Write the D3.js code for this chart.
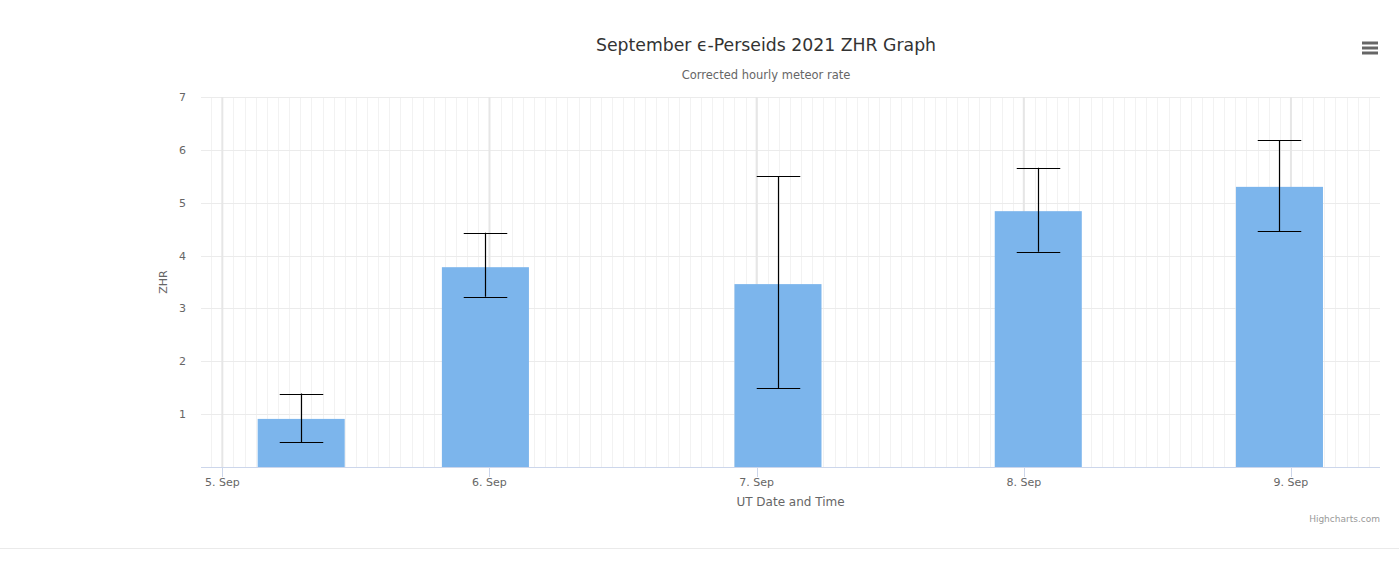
<!DOCTYPE html>
<html>
<head>
<meta charset="utf-8">
<script src="https://cdn.jsdelivr.net/npm/d3@7/dist/d3.min.js"></script>
<style>
  body { margin: 0; background: #fff; }
  svg { display: block; font-family: "DejaVu Sans", Verdana, sans-serif; }
</style>
</head>
<body>
<svg id="chart" width="1399" height="569"></svg>
<script>
// observation times (UT) and corrected ZHR with error range
const times = ["2021-09-05T07:05Z", "2021-09-05T23:38Z", "2021-09-07T01:55Z", "2021-09-08T01:18Z", "2021-09-08T22:58Z"];
const zhr = [0.91, 3.78, 3.46, 4.84, 5.30];
const zhrLow = [0.47, 3.22, 1.49, 4.07, 4.46];
const zhrHigh = [1.39, 4.43, 5.50, 5.66, 6.18];
const yTicks = [1, 2, 3, 4, 5, 6, 7];
const xDomain = ["2021-09-04T22:05Z", "2021-09-09T08:00Z"];

const W = 1399, H = 569;
const margin = { left: 201, right: 19, top: 97, bottom: 102 };
const plotW = W - margin.left - margin.right;
const plotH = H - margin.top - margin.bottom;
const barHours = 7.82;

const svg = d3.select("#chart");

const x = d3.scaleUtc().domain(xDomain.map(d => new Date(d))).range([margin.left, margin.left + plotW]);
const y = d3.scaleLinear().domain([0, 7]).range([margin.top + plotH, margin.top]);

const grid = svg.append("g").attr("class", "grid");

// minor hourly grid lines
const hours = d3.utcHour.every(1).range(x.domain()[0], x.domain()[1]);
grid.selectAll(".minor").data(hours).enter().append("line")
    .attr("x1", d => Math.round(x(d)) + 0.5).attr("x2", d => Math.round(x(d)) + 0.5)
    .attr("y1", margin.top).attr("y2", margin.top + plotH)
    .attr("stroke", "#f2f2f2").attr("stroke-width", 1);

// horizontal grid
grid.selectAll(".hgrid").data(yTicks).enter().append("line")
    .attr("x1", margin.left).attr("x2", margin.left + plotW)
    .attr("y1", d => Math.round(y(d)) + 0.5).attr("y2", d => Math.round(y(d)) + 0.5)
    .attr("stroke", "#ebebeb").attr("stroke-width", 1);

// major day grid lines
const days = d3.utcDay.every(1).range(x.domain()[0], x.domain()[1]);
grid.selectAll(".major").data(days).enter().append("line")
    .attr("x1", d => x(d)).attr("x2", d => x(d))
    .attr("y1", margin.top).attr("y2", margin.top + plotH)
    .attr("stroke", "#e6e6e6").attr("stroke-width", 2);

// columns
const t0 = x.domain()[0];
const barW = x(new Date(t0.getTime() + barHours * 3600e3)) - x(t0);
const pts = times.map((t, i) => ({ t: new Date(t), v: zhr[i], lo: zhrLow[i], hi: zhrHigh[i] }));

svg.append("g").selectAll("rect").data(pts).enter().append("rect")
    .attr("x", d => x(d.t) - barW / 2)
    .attr("y", d => y(d.v))
    .attr("width", barW)
    .attr("height", d => y(0) - y(d.v))
    .attr("fill", "#7cb5ec");

// error bars
const err = svg.append("g").attr("stroke", "#000").attr("stroke-width", 1.2).attr("fill", "none");
pts.forEach(d => {
    const cx = Math.round(x(d.t)) + 0.5;
    const hw = barW / 4;
    err.append("path")
        .attr("d", `M${cx},${y(d.hi)}V${y(d.lo)}M${cx - hw},${Math.round(y(d.hi)) + 0.5}H${cx + hw}M${cx - hw},${Math.round(y(d.lo)) + 0.5}H${cx + hw}`);
});

// x axis
const xAxisG = svg.append("g");
xAxisG.append("line")
    .attr("x1", margin.left).attr("x2", margin.left + plotW)
    .attr("y1", y(0) + 0.5).attr("y2", y(0) + 0.5)
    .attr("stroke", "#ccd6eb");
const dayTick = d3.utcFormat("%-d. %b");
xAxisG.selectAll(".tick").data(days).enter().append("line")
    .attr("x1", d => Math.round(x(d)) + 0.5).attr("x2", d => Math.round(x(d)) + 0.5)
    .attr("y1", y(0)).attr("y2", y(0) + 10)
    .attr("stroke", "#ccd6eb");
xAxisG.selectAll("text").data(days).enter().append("text")
    .attr("x", d => x(d)).attr("y", y(0) + 19)
    .attr("text-anchor", "middle")
    .attr("font-size", 11).attr("fill", "#666")
    .text(dayTick);

svg.append("text")
    .attr("x", margin.left + plotW / 2).attr("y", y(0) + 39)
    .attr("text-anchor", "middle").attr("font-size", 12).attr("fill", "#666")
    .text("UT Date and Time");

// y axis labels
svg.append("g").selectAll("text").data(yTicks).enter().append("text")
    .attr("x", 186).attr("y", d => y(d) + 4)
    .attr("text-anchor", "end").attr("font-size", 11).attr("fill", "#666")
    .text(d => d);

svg.append("text")
    .attr("transform", `translate(167, ${margin.top + plotH / 2}) rotate(-90)`)
    .attr("text-anchor", "middle").attr("font-size", 11).attr("fill", "#666")
    .text("ZHR");

// titles
svg.append("text")
    .attr("x", 766).attr("y", 51)
    .attr("text-anchor", "middle").attr("font-size", 17.3).attr("fill", "#333")
    .text("September ϵ-Perseids 2021 ZHR Graph");
svg.append("text")
    .attr("x", 766).attr("y", 79)
    .attr("text-anchor", "middle").attr("font-size", 11.5).attr("fill", "#666")
    .text("Corrected hourly meteor rate");

// export menu icon
const menu = svg.append("g").attr("stroke", "#666").attr("stroke-width", 3);
[43, 48, 53].forEach(yy => menu.append("line").attr("x1", 1362).attr("x2", 1378).attr("y1", yy).attr("y2", yy));

// credits
svg.append("text")
    .attr("x", 1380).attr("y", 522)
    .attr("text-anchor", "end").attr("font-size", 9).attr("fill", "#999")
    .text("Highcharts.com");

// page separator
svg.append("line")
    .attr("x1", 0).attr("x2", W).attr("y1", 548.5).attr("y2", 548.5)
    .attr("stroke", "#eaeaea");
</script>
</body>
</html>
